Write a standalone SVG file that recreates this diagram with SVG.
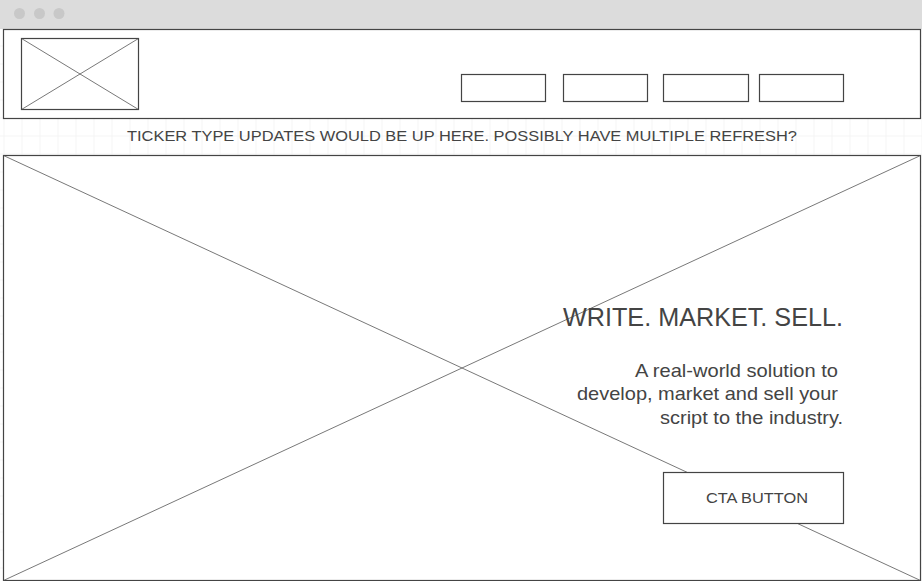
<svg xmlns="http://www.w3.org/2000/svg" width="922" height="581" viewBox="0 0 922 581">
<defs>
<pattern id="grid" x="3.5" y="117.5" width="18" height="18" patternUnits="userSpaceOnUse">
<path d="M0 0 V18 M0 0 H18" fill="none" stroke="#ebebeb" stroke-width="1"/>
</pattern>
</defs>
<style>
.box{fill:#fff;stroke:#444;stroke-width:1.2}
.x{stroke:#555;stroke-width:0.8;fill:none}
.t{font-family:"Liberation Sans",Arial,sans-serif;fill:#444}
.dot{fill:#c8c8c8}
</style>
<rect x="0" y="0" width="922" height="581" fill="#fff"/>
<rect x="0" y="0" width="922" height="581" fill="url(#grid)"/>
<g id="titlebar">
<rect x="0" y="0" width="922" height="29" fill="#dcdcdc"/>
<circle class="dot" cx="19.5" cy="13.5" r="5.5"/>
<circle class="dot" cx="39.5" cy="13.5" r="5.5"/>
<circle class="dot" cx="59" cy="13.5" r="5.5"/>
</g>
<g id="header">
<rect class="box" x="3.5" y="29.5" width="917" height="89"/>
</g>
<g id="logo">
<rect class="box" x="21.5" y="38.5" width="117" height="71"/>
<path class="x" d="M21.5 38.5 L138.5 109.5 M138.5 38.5 L21.5 109.5"/>
</g>
<g id="nav1"><rect class="box" x="461.5" y="74.5" width="84" height="27"/></g>
<g id="nav2"><rect class="box" x="563.5" y="74.5" width="84" height="27"/></g>
<g id="nav3"><rect class="box" x="663.5" y="74.5" width="85" height="27"/></g>
<g id="nav4"><rect class="box" x="759.5" y="74.5" width="84" height="27"/></g>
<g id="ticker">
<text class="t" x="462" y="141" font-size="15.5" text-anchor="middle" textLength="670" lengthAdjust="spacingAndGlyphs">TICKER TYPE UPDATES WOULD BE UP HERE. POSSIBLY HAVE MULTIPLE REFRESH?</text>
</g>
<g id="hero">
<rect class="box" x="3.5" y="155.5" width="917" height="425"/>
<path class="x" d="M3.5 155.5 L920.5 580.5 M920.5 155.5 L3.5 580.5"/>
</g>
<g id="headline">
<text class="t" x="843" y="326" font-size="25" text-anchor="end" textLength="280" lengthAdjust="spacingAndGlyphs">WRITE. MARKET. SELL.</text>
</g>
<g id="subtext">
<text class="t" x="838" y="377" font-size="18.5" text-anchor="end" textLength="203" lengthAdjust="spacingAndGlyphs">A real-world solution to</text>
<text class="t" x="838" y="400" font-size="18.5" text-anchor="end" textLength="261" lengthAdjust="spacingAndGlyphs">develop, market and sell your</text>
<text class="t" x="843" y="424" font-size="18.5" text-anchor="end" textLength="183" lengthAdjust="spacingAndGlyphs">script to the industry.</text>
</g>
<g id="cta">
<rect class="box" x="663.5" y="472.5" width="180" height="51"/>
<text class="t" x="757" y="503" font-size="15.5" text-anchor="middle" textLength="102" lengthAdjust="spacingAndGlyphs">CTA BUTTON</text>
</g>
</svg>
